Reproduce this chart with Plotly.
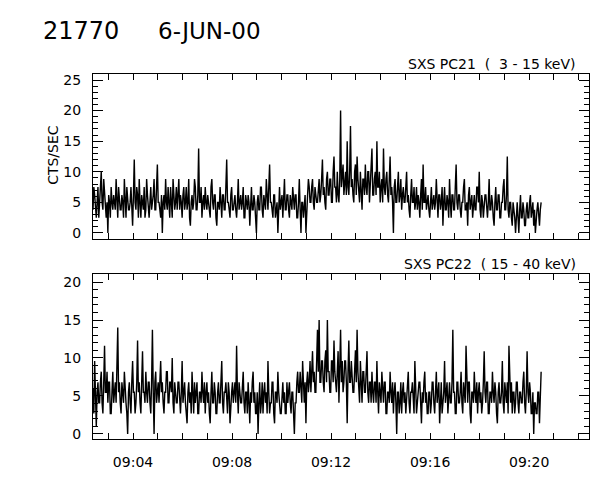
"""
SXS light curves, 6-JUN-00 (event 21770)
"""

import pandas as pd
import plotly.graph_objects as go
from plotly.subplots import make_subplots

# time bins
T_START = "2000-06-06 09:02:23"
BIN_SECONDS = 2

# SXS PC21 (3 - 15 keV), cts/sec
pc21_rate = [
    3.8, 7.5, 6.2, 3.8, 2.5, 5.0, 7.5, 2.5, 5.0, 8.8, 10.0, 5.0, 3.8, 8.8, 6.2, 3.8, 2.5,
    5.0, 0.0, 6.2, 5.0, 2.5, 7.5, 5.0, 3.8, 6.2, 5.0, 3.8, 8.8, 5.0, 2.5, 7.5, 6.2, 3.8,
    3.8, 6.2, 5.0, 2.5, 8.8, 5.0, 2.5, 7.5, 6.2, 3.8, 3.8, 5.0, 7.5, 3.8, 1.2, 6.2, 12.0,
    5.0, 3.8, 7.5, 6.2, 2.5, 8.8, 5.0, 2.5, 6.2, 5.0, 3.8, 7.5, 2.5, 3.8, 8.8, 6.2, 3.8,
    2.5, 5.0, 7.5, 3.8, 5.0, 6.2, 8.8, 3.8, 3.8, 7.5, 11.2, 5.0, 5.0, 3.8, 2.5, 6.2, 0.0,
    5.0, 6.2, 3.8, 8.8, 5.0, 3.8, 7.5, 5.0, 2.5, 7.5, 5.0, 2.5, 8.8, 6.2, 3.8, 5.0, 7.5,
    3.8, 6.2, 8.8, 3.8, 6.2, 5.0, 2.5, 6.2, 7.5, 3.8, 5.0, 7.5, 3.8, 5.0, 8.8, 2.5, 1.2,
    5.0, 6.2, 3.8, 5.0, 8.8, 7.5, 3.8, 3.8, 6.2, 13.8, 5.0, 5.0, 7.5, 2.5, 5.0, 6.2, 3.8,
    7.5, 5.0, 3.8, 6.2, 5.0, 3.8, 2.5, 7.5, 8.8, 5.0, 3.8, 6.2, 6.2, 2.5, 1.2, 5.0, 5.0,
    3.8, 7.5, 5.0, 2.5, 6.2, 6.2, 3.8, 3.8, 7.5, 12.0, 5.0, 5.0, 3.8, 2.5, 6.2, 7.5, 3.8,
    3.8, 5.0, 6.2, 3.8, 2.5, 5.0, 8.8, 3.8, 5.0, 6.2, 3.8, 5.0, 7.5, 2.5, 2.5, 6.2, 5.0,
    3.8, 6.2, 5.0, 1.2, 5.0, 7.5, 3.8, 3.8, 6.2, 5.0, 2.5, 0.0, 5.0, 6.2, 3.8, 3.8, 7.5,
    7.5, 3.8, 2.5, 6.2, 5.0, 3.8, 8.8, 5.0, 3.8, 7.5, 11.2, 5.0, 5.0, 3.8, 2.5, 6.2, 6.2,
    2.5, 3.8, 5.0, 0.0, 6.2, 7.5, 3.8, 5.0, 6.2, 2.5, 5.0, 8.8, 3.8, 3.8, 6.2, 6.2, 3.8,
    2.5, 6.2, 5.0, 3.8, 7.5, 5.0, 3.8, 6.2, 6.2, 2.5, 2.5, 5.0, 8.8, 3.8, 0.0, 5.0, 5.0,
    2.5, 3.8, 6.2, 0.0, 5.0, 6.2, 8.8, 7.5, 5.0, 5.0, 7.5, 8.8, 5.0, 3.8, 7.5, 6.2, 5.0,
    5.0, 7.5, 8.8, 5.0, 6.2, 8.8, 12.0, 6.2, 7.5, 5.0, 3.8, 8.8, 10.0, 6.2, 6.2, 8.8, 8.8,
    5.0, 5.0, 10.0, 12.5, 7.5, 7.5, 5.0, 10.0, 6.2, 5.0, 8.8, 20.0, 7.5, 8.8, 11.2, 6.2, 8.8,
    10.0, 6.2, 15.0, 7.5, 6.2, 10.0, 17.5, 7.5, 8.8, 6.2, 5.0, 10.0, 11.2, 6.2, 12.5, 8.8, 7.5,
    5.0, 10.0, 7.5, 3.8, 8.8, 8.8, 6.2, 11.2, 7.5, 6.2, 10.0, 10.0, 5.0, 7.5, 10.0, 13.8, 6.2,
    6.2, 8.8, 10.0, 6.2, 15.0, 7.5, 7.5, 10.0, 5.0, 7.5, 8.8, 5.0, 13.8, 7.5, 6.2, 8.8, 10.0,
    6.2, 5.0, 8.8, 12.5, 6.2, 7.5, 5.0, 0.0, 7.5, 8.8, 5.0, 5.0, 7.5, 10.0, 5.0, 6.2, 8.8,
    3.8, 6.2, 7.5, 5.0, 5.0, 7.5, 10.0, 5.0, 6.2, 3.8, 2.5, 6.2, 8.8, 5.0, 5.0, 7.5, 3.8,
    5.0, 7.5, 3.8, 6.2, 5.0, 2.5, 6.2, 8.8, 3.8, 11.2, 5.0, 5.0, 7.5, 3.8, 5.0, 6.2, 3.8,
    2.5, 5.0, 7.5, 3.8, 5.0, 6.2, 3.8, 5.0, 8.8, 3.8, 2.5, 6.2, 6.2, 3.8, 5.0, 7.5, 1.2,
    5.0, 7.5, 3.8, 3.8, 6.2, 5.0, 2.5, 8.8, 5.0, 2.5, 6.2, 6.2, 3.8, 3.8, 7.5, 11.2, 5.0,
    3.8, 6.2, 6.2, 3.8, 2.5, 5.0, 5.0, 7.5, 8.8, 3.8, 3.8, 5.0, 1.2, 6.2, 7.5, 3.8, 5.0,
    6.2, 2.5, 5.0, 6.2, 3.8, 3.8, 7.5, 7.5, 5.0, 10.0, 3.8, 2.5, 6.2, 5.0, 2.5, 3.8, 6.2,
    6.2, 3.8, 2.5, 5.0, 8.8, 3.8, 3.8, 6.2, 5.0, 2.5, 1.2, 5.0, 7.5, 3.8, 3.8, 6.2, 6.2,
    2.5, 2.5, 5.0, 5.0, 7.5, 8.8, 3.8, 3.8, 6.2, 12.5, 3.8, 2.5, 5.0, 5.0, 2.5, 1.2, 5.0,
    3.8, 2.5, 0.0, 3.8, 5.0, 2.5, 0.0, 3.8, 6.2, 2.5, 2.5, 5.0, 3.8, 1.2, 1.2, 3.8, 5.0,
    2.5, 2.5, 5.0, 6.2, 2.5, 3.8, 5.0, 1.2, 3.8, 0.0, 2.5, 3.8, 5.0, 2.5, 1.2, 3.8, 5.0,
]

# SXS PC22 (15 - 40 keV), cts/sec
pc22_rate = [
    6.0, 2.7, 9.6, 4.1, 1.0, 5.5, 6.8, 4.1, 4.1, 6.8, 8.2, 4.1, 2.7, 6.8, 11.6, 5.5, 5.5,
    8.2, 4.1, 6.8, 6.8, 2.7, 2.7, 5.5, 8.2, 4.1, 5.5, 6.8, 4.1, 8.2, 14.0, 5.5, 6.8, 4.1,
    2.7, 6.8, 5.5, 4.1, 8.2, 5.5, 4.1, 2.7, 0.0, 5.5, 6.8, 4.1, 2.7, 6.8, 9.6, 5.5, 5.5,
    2.7, 4.1, 6.8, 12.3, 5.5, 6.8, 4.1, 2.7, 6.8, 10.9, 5.5, 5.5, 4.1, 8.2, 5.5, 4.1, 6.8,
    6.8, 4.1, 2.7, 6.8, 13.7, 5.5, 0.0, 6.8, 8.2, 4.1, 5.5, 6.8, 4.1, 8.2, 9.6, 5.5, 6.8,
    4.1, 2.7, 5.5, 5.5, 8.2, 8.2, 4.1, 4.1, 6.8, 6.8, 5.5, 10.0, 4.1, 2.7, 6.8, 5.5, 4.1,
    4.1, 6.8, 6.8, 4.1, 2.7, 5.5, 9.6, 4.1, 5.5, 6.8, 4.1, 2.7, 1.4, 5.5, 6.8, 4.1, 5.5,
    2.7, 8.2, 5.5, 2.7, 6.8, 4.1, 5.5, 6.8, 2.7, 2.7, 5.5, 5.5, 4.1, 8.2, 5.5, 4.1, 6.8,
    2.7, 5.5, 6.8, 4.1, 5.5, 2.7, 1.4, 5.5, 8.2, 4.1, 4.1, 6.8, 5.5, 2.7, 2.7, 5.5, 6.8,
    4.1, 4.1, 6.8, 9.6, 4.1, 2.7, 5.5, 5.5, 6.8, 4.1, 2.7, 6.8, 5.5, 1.4, 4.1, 5.5, 6.8,
    4.1, 5.5, 6.8, 4.1, 11.6, 5.5, 2.7, 6.8, 5.5, 4.1, 4.1, 6.8, 8.2, 4.1, 2.7, 5.5, 5.5,
    2.7, 6.8, 4.1, 1.4, 5.5, 4.1, 6.8, 8.2, 4.1, 5.5, 2.7, 2.7, 5.5, 0.0, 4.1, 6.8, 2.7,
    4.1, 6.8, 2.7, 5.5, 6.8, 4.1, 5.5, 2.7, 9.6, 5.5, 2.7, 4.1, 4.1, 6.8, 6.8, 2.7, 1.4,
    5.5, 5.5, 4.1, 8.2, 5.5, 4.1, 2.7, 2.7, 5.5, 6.8, 4.1, 5.5, 2.7, 2.7, 6.8, 4.1, 5.5,
    6.8, 4.1, 2.7, 5.5, 5.5, 2.7, 0.0, 4.1, 4.1, 6.8, 8.2, 5.5, 5.5, 8.2, 6.8, 4.1, 9.6,
    5.5, 4.1, 6.8, 1.4, 6.8, 8.2, 5.5, 6.8, 9.6, 5.5, 8.2, 10.9, 6.8, 8.2, 5.5, 5.5, 9.6,
    13.7, 8.2, 15.0, 6.8, 6.8, 9.6, 9.6, 6.8, 5.5, 9.6, 11.0, 6.8, 15.0, 8.2, 8.2, 5.5, 5.5,
    9.6, 9.6, 6.8, 12.3, 8.2, 6.8, 5.5, 8.2, 10.9, 4.1, 8.2, 13.7, 6.8, 9.6, 5.5, 6.8, 9.6,
    9.6, 6.8, 1.4, 8.2, 12.3, 6.8, 6.8, 9.6, 8.2, 5.5, 5.5, 8.2, 11.0, 6.8, 13.7, 8.2, 6.8,
    4.1, 9.6, 6.8, 4.1, 8.2, 8.2, 5.5, 5.5, 8.2, 10.9, 5.5, 4.1, 6.8, 6.8, 4.1, 8.2, 5.5,
    4.1, 6.8, 6.8, 4.1, 9.6, 5.5, 2.7, 6.8, 5.5, 4.1, 8.2, 5.5, 4.1, 6.8, 6.8, 2.7, 2.7,
    5.5, 5.5, 4.1, 8.2, 5.5, 4.1, 6.8, 2.7, 5.5, 6.8, 4.1, 0.0, 5.5, 5.5, 2.7, 4.1, 6.8,
    2.7, 5.5, 6.8, 4.1, 5.5, 2.7, 4.1, 6.8, 8.2, 4.1, 2.7, 5.5, 5.5, 6.8, 4.1, 2.7, 9.6,
    5.5, 2.7, 4.1, 5.5, 6.8, 6.8, 4.1, 1.4, 5.5, 4.1, 6.8, 8.2, 4.1, 5.5, 2.7, 2.7, 5.5,
    5.5, 2.7, 4.1, 6.8, 6.8, 4.1, 2.7, 5.5, 8.2, 4.1, 5.5, 6.8, 1.4, 5.5, 6.8, 2.7, 4.1,
    5.5, 9.6, 4.1, 5.5, 6.8, 2.7, 5.5, 6.8, 4.1, 4.1, 6.8, 13.7, 5.5, 5.5, 2.7, 2.7, 6.8,
    6.8, 4.1, 4.1, 5.5, 8.2, 4.1, 2.7, 6.8, 5.5, 4.1, 11.6, 5.5, 4.1, 6.8, 6.8, 2.7, 1.4,
    5.5, 5.5, 4.1, 8.2, 5.5, 4.1, 6.8, 2.7, 5.5, 6.8, 4.1, 5.5, 2.7, 4.1, 6.8, 10.9, 5.5,
    4.1, 6.8, 6.8, 2.7, 2.7, 5.5, 5.5, 4.1, 8.2, 5.5, 4.1, 6.8, 5.5, 2.7, 1.4, 5.5, 6.8,
    4.1, 4.1, 5.5, 9.6, 4.1, 2.7, 6.8, 5.5, 4.1, 6.8, 2.7, 11.6, 5.5, 4.1, 6.8, 2.7, 5.5,
    5.5, 2.7, 4.1, 6.8, 6.8, 4.1, 2.7, 5.5, 5.5, 4.1, 4.1, 6.8, 8.2, 4.1, 2.7, 5.5, 10.9,
    5.5, 4.1, 6.8, 5.5, 2.7, 2.7, 5.5, 0.0, 4.1, 4.1, 2.7, 2.7, 5.5, 5.5, 1.4, 4.1, 8.2,
]

times = pd.date_range(T_START, periods=len(pc21_rate), freq=f"{BIN_SECONDS}s")

FONT = "DejaVu Sans"
X_RANGE = ["2000-06-06 09:02:23", "2000-06-06 09:22:25"]

fig = make_subplots(rows=2, cols=1, shared_xaxes=False)

fig.add_trace(go.Scatter(
    x=times, y=pc21_rate, mode='lines',
    line=dict(color='black', width=1.4), showlegend=False
), row=1, col=1)

fig.add_trace(go.Scatter(
    x=times[:len(pc22_rate)], y=pc22_rate, mode='lines',
    line=dict(color='black', width=1.4), showlegend=False
), row=2, col=1)

xaxis_style = dict(
    range=X_RANGE,
    tick0="2000-06-06 09:00:00",
    dtick=240000,
    tickformat="%H:%M",
    ticks='inside',
    ticklen=6,
    tickcolor='black',
    minor=dict(dtick=60000, ticks='inside', ticklen=6, tickcolor='black', showgrid=False),
    showline=True,
    linecolor='black',
    linewidth=1,
    mirror='ticks',
    showgrid=False,
    zeroline=False,
    ticklabelstandoff=10,
    tickfont=dict(family=FONT, size=14, color='black'),
)

yaxis_style = dict(
    dtick=5,
    tick0=0,
    ticks='inside',
    ticklen=10,
    tickcolor='black',
    minor=dict(dtick=1, ticks='inside', ticklen=5, tickcolor='black', showgrid=False),
    showline=True,
    linecolor='black',
    linewidth=1,
    mirror='ticks',
    showgrid=False,
    zeroline=False,
    ticklabelstandoff=8,
    tickfont=dict(family=FONT, size=14, color='black'),
)

fig.update_xaxes(**xaxis_style)
fig.update_yaxes(**yaxis_style)
fig.update_xaxes(showticklabels=False, row=1, col=1)

# page body adds an 8px offset, so the figure is drawn 8px smaller
fig.update_layout(
    width=592,
    height=472,
    margin=dict(l=85, r=11, t=66, b=41),
    paper_bgcolor='white',
    plot_bgcolor='white',
    xaxis=dict(domain=[0, 1]),
    yaxis=dict(domain=[0.548, 1.0], range=[-0.98, 25.98]),
    xaxis2=dict(domain=[0, 1]),
    yaxis2=dict(domain=[0.0, 0.452], range=[-0.66, 21.05]),
    font=dict(family=FONT, color='black'),
)

# event number and date
fig.add_annotation(
    text="21770", xref='paper', yref='paper', x=-0.104, y=1.119,
    xanchor='left', yanchor='middle', showarrow=False,
    font=dict(family=FONT, size=24, color='black')
)
fig.add_annotation(
    text="6-JUN-00", xref='paper', yref='paper', x=0.127, y=1.119,
    xanchor='left', yanchor='middle', showarrow=False,
    font=dict(family=FONT, size=23, color='black')
)

# channel labels
fig.add_annotation(
    text="SXS PC21\u00a0\u00a0(\u00a0\u00a03 - 15 keV)",
    xref='x domain', yref='y domain', x=0.978, y=1.0,
    xanchor='right', yanchor='bottom', showarrow=False,
    font=dict(family=FONT, size=14, color='black')
)
fig.add_annotation(
    text="SXS PC22\u00a0\u00a0( 15 - 40 keV)",
    xref='x2 domain', yref='y2 domain', x=0.978, y=1.0,
    xanchor='right', yanchor='bottom', showarrow=False,
    font=dict(family=FONT, size=14, color='black')
)

# y axis title
fig.add_annotation(
    text="CTS/SEC", xref='paper', yref='paper', x=-0.081, y=0.778,
    xanchor='center', yanchor='middle', textangle=-90, showarrow=False,
    font=dict(family=FONT, size=14, color='black')
)

fig.write_html("out.html")
